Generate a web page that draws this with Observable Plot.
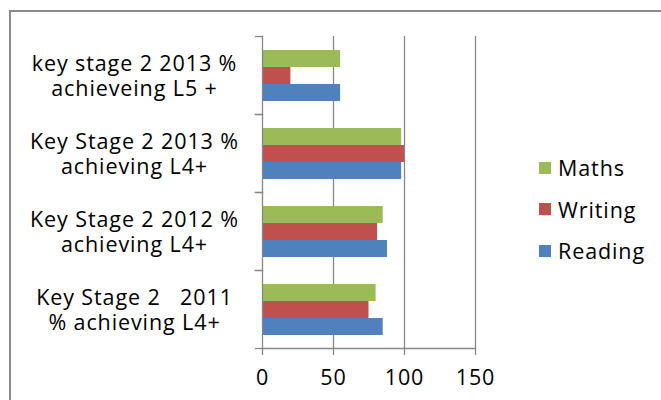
<!DOCTYPE html>
<html>
<head>
<meta charset="utf-8">
<script src="https://cdn.jsdelivr.net/npm/d3@7"></script>
<script src="https://cdn.jsdelivr.net/npm/@observablehq/plot@0.6"></script>
<style>
  html, body { margin: 0; padding: 0; background: #fff; }
  body { width: 661px; height: 400px; overflow: hidden; position: relative; font-family: 'Open Sans', sans-serif; }
  #border { position: absolute; left: 9px; top: 10px; width: 800px; height: 600px; border-left: 2px solid #8c8c8c; border-top: 2px solid #8c8c8c; }
  #chart { position: absolute; left: 0; top: 0; }
  #chart svg text, #chart svg tspan { white-space: pre; }
  #legend { position: absolute; left: 539px; top: 147px; font-size: 21.5px; letter-spacing: 0.9px; color: #000; }
  .item { display: flex; align-items: center; height: 41.5px; }
  .sw { width: 12px; height: 12px; margin-right: 7px; flex: none; }
</style>
</head>
<body>
<div id="border"></div>
<div id="chart"></div>
<div id="legend"></div>
<script>
const categories = [
  "key stage 2 2013 %\nachieveing L5 +",
  "Key Stage 2 2013 %\nachieving L4+",
  "Key Stage 2 2012 %\nachieving L4+",
  "Key Stage 2   2011\n% achieving L4+"
];
const series = ["Maths", "Writing", "Reading"];
const maths = [55, 98, 85, 80];
const writing = [20, 100, 81, 75];
const reading = [55, 98, 88, 85];
const xTicks = [0, 50, 100, 150];
const colors = ["#9bbb59", "#c0504d", "#4f81bd"];

const valuesBySeries = {Maths: maths, Writing: writing, Reading: reading};
const data = [];
categories.forEach((c, i) => series.forEach(s => data.push({category: c, series: s, value: valuesBySeries[s][i]})));

const W = 661, H = 400, mL = 262, mR = 186, mT = 36, mB = 52;
const plotW = W - mL - mR;
const gray = "#878787";

const svg = Plot.plot({
  width: W, height: H,
  marginLeft: mL, marginRight: mR, marginTop: mT, marginBottom: mB,
  style: {fontFamily: "'Open Sans', sans-serif", fontSize: "21.5px", color: "#000", background: "transparent", letterSpacing: "0.9px", overflow: "visible"},
  x: {domain: [0, 150], axis: null},
  y: {domain: series, paddingInner: 0, paddingOuter: 0.75, axis: null},
  fy: {domain: categories, padding: 0, axis: null},
  color: {domain: series, range: colors},
  marks: [
    Plot.gridX(xTicks.slice(1), {stroke: gray, strokeOpacity: 1, strokeWidth: 1.3}),
    Plot.barX(data, {x: "value", y: "series", fy: "category", fill: "series"}),
    Plot.ruleX([0], {stroke: gray, strokeWidth: 1.3}),
    Plot.frame({anchor: "top", stroke: gray, strokeWidth: 1.3, insetLeft: -7, insetRight: plotW}),
    Plot.frame({anchor: "bottom", stroke: gray, strokeWidth: 1.3, insetLeft: -7, insetRight: plotW}),
    Plot.frame({anchor: "bottom", facet: "super", stroke: gray, strokeWidth: 1.3}),
    Plot.axisX(xTicks, {anchor: "bottom", label: null, tickSize: 7, tickPadding: 14, stroke: gray, strokeWidth: 1.3, fill: "#000", fontSize: 21.5}),
    Plot.text(categories, {fy: d => d, text: d => d, frameAnchor: "left", dx: -128, textAnchor: "middle", lineHeight: 1.163, fontSize: 21.5, fill: "#000"})
  ]
});
document.getElementById("chart").appendChild(svg);

const legend = document.getElementById("legend");
series.forEach((s, i) => {
  const row = document.createElement("div");
  row.className = "item";
  row.innerHTML = `<span class="sw" style="background:${colors[i]}"></span><span>${s}</span>`;
  legend.appendChild(row);
});
</script>
</body>
</html>
